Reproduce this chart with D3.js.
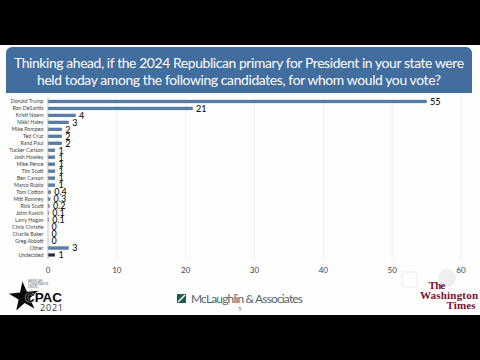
<!DOCTYPE html>
<html><head><meta charset="utf-8">
<script src="https://cdnjs.cloudflare.com/ajax/libs/d3/7.8.5/d3.min.js"></script>
<style>html,body{margin:0;padding:0;background:#000}svg{display:block}</style>
</head><body><svg id="c" width="480" height="360"></svg>
<script>
const candidates=["Donald Trump","Ron DeSantis","Kristi Noem","Nikki Haley","Mike Pompeo","Ted Cruz","Rand Paul","Tucker Carlson","Josh Hawley","Mike Pence","Tim Scott","Ben Carson","Marco Rubio","Tom Cotton","Mitt Romney","Rick Scott","John Kasich","Larry Hogan","Chris Christie","Charlie Baker","Greg Abbott","Other","Undecided"];
const shares=[55,21,4,3,2,2,2,1,1,1,1,1,1,0.4,0.3,0.2,0.1,0.1,0,0,0,3,1];
const xTicks=[0,10,20,30,40,50,60];
const titleLines=["Thinking ahead, if the 2024 Republican primary for President in your state were","held today among the following candidates, for whom would you vote?"];

const svg=d3.select("#c");
const font="Open Sans, sans-serif";
svg.append("rect").attr("width",480).attr("height",360).attr("fill","#000");
svg.append("rect").attr("x",0).attr("y",45).attr("width",480).attr("height",270).attr("fill","#fefefe");
const hp=d3.path();hp.moveTo(6,93);hp.lineTo(6,53);hp.arcTo(6,47,12,47,6);hp.lineTo(466,47);hp.arcTo(472,47,472,53,6);hp.lineTo(472,93);hp.closePath();
svg.append("path").attr("d",hp.toString()).attr("fill","#426d9f");
svg.selectAll("text.t").data(titleLines).join("text").attr("class","t")
 .attr("x",239).attr("y",(d,i)=>68+i*17).attr("text-anchor","middle").attr("fill","#fff")
 .attr("font-family","Lato, sans-serif").attr("font-size",13.9).attr("textLength",(d,i)=>i?404:450).text(d=>d);

const x=d3.scaleLinear().domain([0,60]).range([48,461]);
const y=d3.scaleBand().domain(candidates).range([98,258.5]).paddingInner(0.58).paddingOuter(0.29);
const cy=d=>y(d)+y.bandwidth()/2;
const g=svg.append("g");
g.selectAll("line.g").data(xTicks.slice(1)).join("line").attr("class","g")
 .attr("x1",x).attr("x2",x).attr("y1",97).attr("y2",259).attr("stroke","#e8e8e8").attr("stroke-width",.8);
g.selectAll("rect.b").data(candidates).join("rect").attr("class","b")
 .attr("x",x(0)).attr("y",d=>y(d)).attr("height",y.bandwidth())
 .attr("width",(d,i)=>x(shares[i])-x(0))
 .attr("fill",d=>d==="Undecided"?"#2b2b2b":"#587ea8").attr("stroke","#3f5f82").attr("stroke-width",.3);
g.append("line").attr("x1",x(0)).attr("x2",x(0)).attr("y1",97).attr("y2",259).attr("stroke","#b5b5b5").attr("stroke-width",.8);
g.selectAll("text.n").data(candidates).join("text").attr("class","n")
 .attr("x",43.5).attr("y",d=>cy(d)+1.8).attr("text-anchor","end").attr("fill","#444")
 .attr("font-family","Lato, sans-serif").attr("font-size",5.3).text(d=>d);
g.selectAll("text.v").data(candidates).join("text").attr("class","v")
 .attr("x",(d,i)=>x(shares[i])+3.5).attr("y",d=>cy(d)+3.2).attr("fill","#111")
 .attr("font-family","Lato, sans-serif").attr("font-size",9).attr("font-weight",500)
 .text((d,i)=>shares[i]);
g.selectAll("text.x").data(xTicks).join("text").attr("class","x")
 .attr("x",x).attr("y",272.5).attr("text-anchor","middle").attr("fill","#444")
 .attr("font-family","Lato, sans-serif").attr("font-size",8).text(d=>d);

// faint watermark behind the newspaper logo
svg.append("rect").attr("x",402).attr("y",272).attr("width",15).attr("height",15).attr("fill","none").attr("stroke","#ececec");
svg.append("circle").attr("cx",447).attr("cy",278).attr("r",9).attr("fill","#efefef");

// CPAC logo
svg.append("path").attr("d",d3.symbol(d3.symbolStar,270)()).attr("transform","translate(24,297) rotate(-6)").attr("fill","#0a0a0a");
["AMERICAN","CONSERVATIVE","UNION"].forEach((t,i)=>svg.append("text").attr("x",28).attr("y",282+i*3).attr("font-family",font).attr("font-size",2.9).attr("fill","#555").text(t));
svg.append("text").attr("x",25).attr("y",302).attr("font-family","Liberation Sans, sans-serif").attr("font-weight",700).attr("font-size",13.5).attr("stroke","#fff").attr("stroke-width",.7).attr("paint-order","stroke").attr("fill","#0a0a0a").attr("textLength",37).text("CPAC");
svg.append("text").attr("x",40).attr("y",311).attr("font-family",font).attr("font-size",9).attr("fill","#333").attr("textLength",23).text("2021");

// McLaughlin logo
svg.append("rect").attr("x",177).attr("y",294).attr("width",9).attr("height",9).attr("fill","#1f5c4d");
svg.append("path").attr("d",d3.line()([[178,302],[185,295]])).attr("stroke","#fff").attr("stroke-width",1.4);
svg.append("text").attr("x",191).attr("y",303).attr("font-family","Lato, sans-serif").attr("font-size",12).attr("fill","#55666a").attr("textLength",112).text("McLaughlin & Associates");
svg.append("text").attr("x",240).attr("y",311).attr("text-anchor","middle").attr("font-family",font).attr("font-size",5).attr("fill","#555").text("5");

// Washington Times logo
const wt=["The","Washington","Times"],wx=[437,449,461],wy=[289,299,309],wl=[17,58,29];
svg.selectAll("text.w").data(wt).join("text").attr("class","w")
 .attr("x",(d,i)=>wx[i]).attr("y",(d,i)=>wy[i]).attr("text-anchor","middle")
 .attr("font-family","Liberation Serif, serif").attr("font-weight",700).attr("font-size",11).attr("fill","#7d1030")
 .attr("textLength",(d,i)=>wl[i]).text(d=>d);
</script></body></html>
